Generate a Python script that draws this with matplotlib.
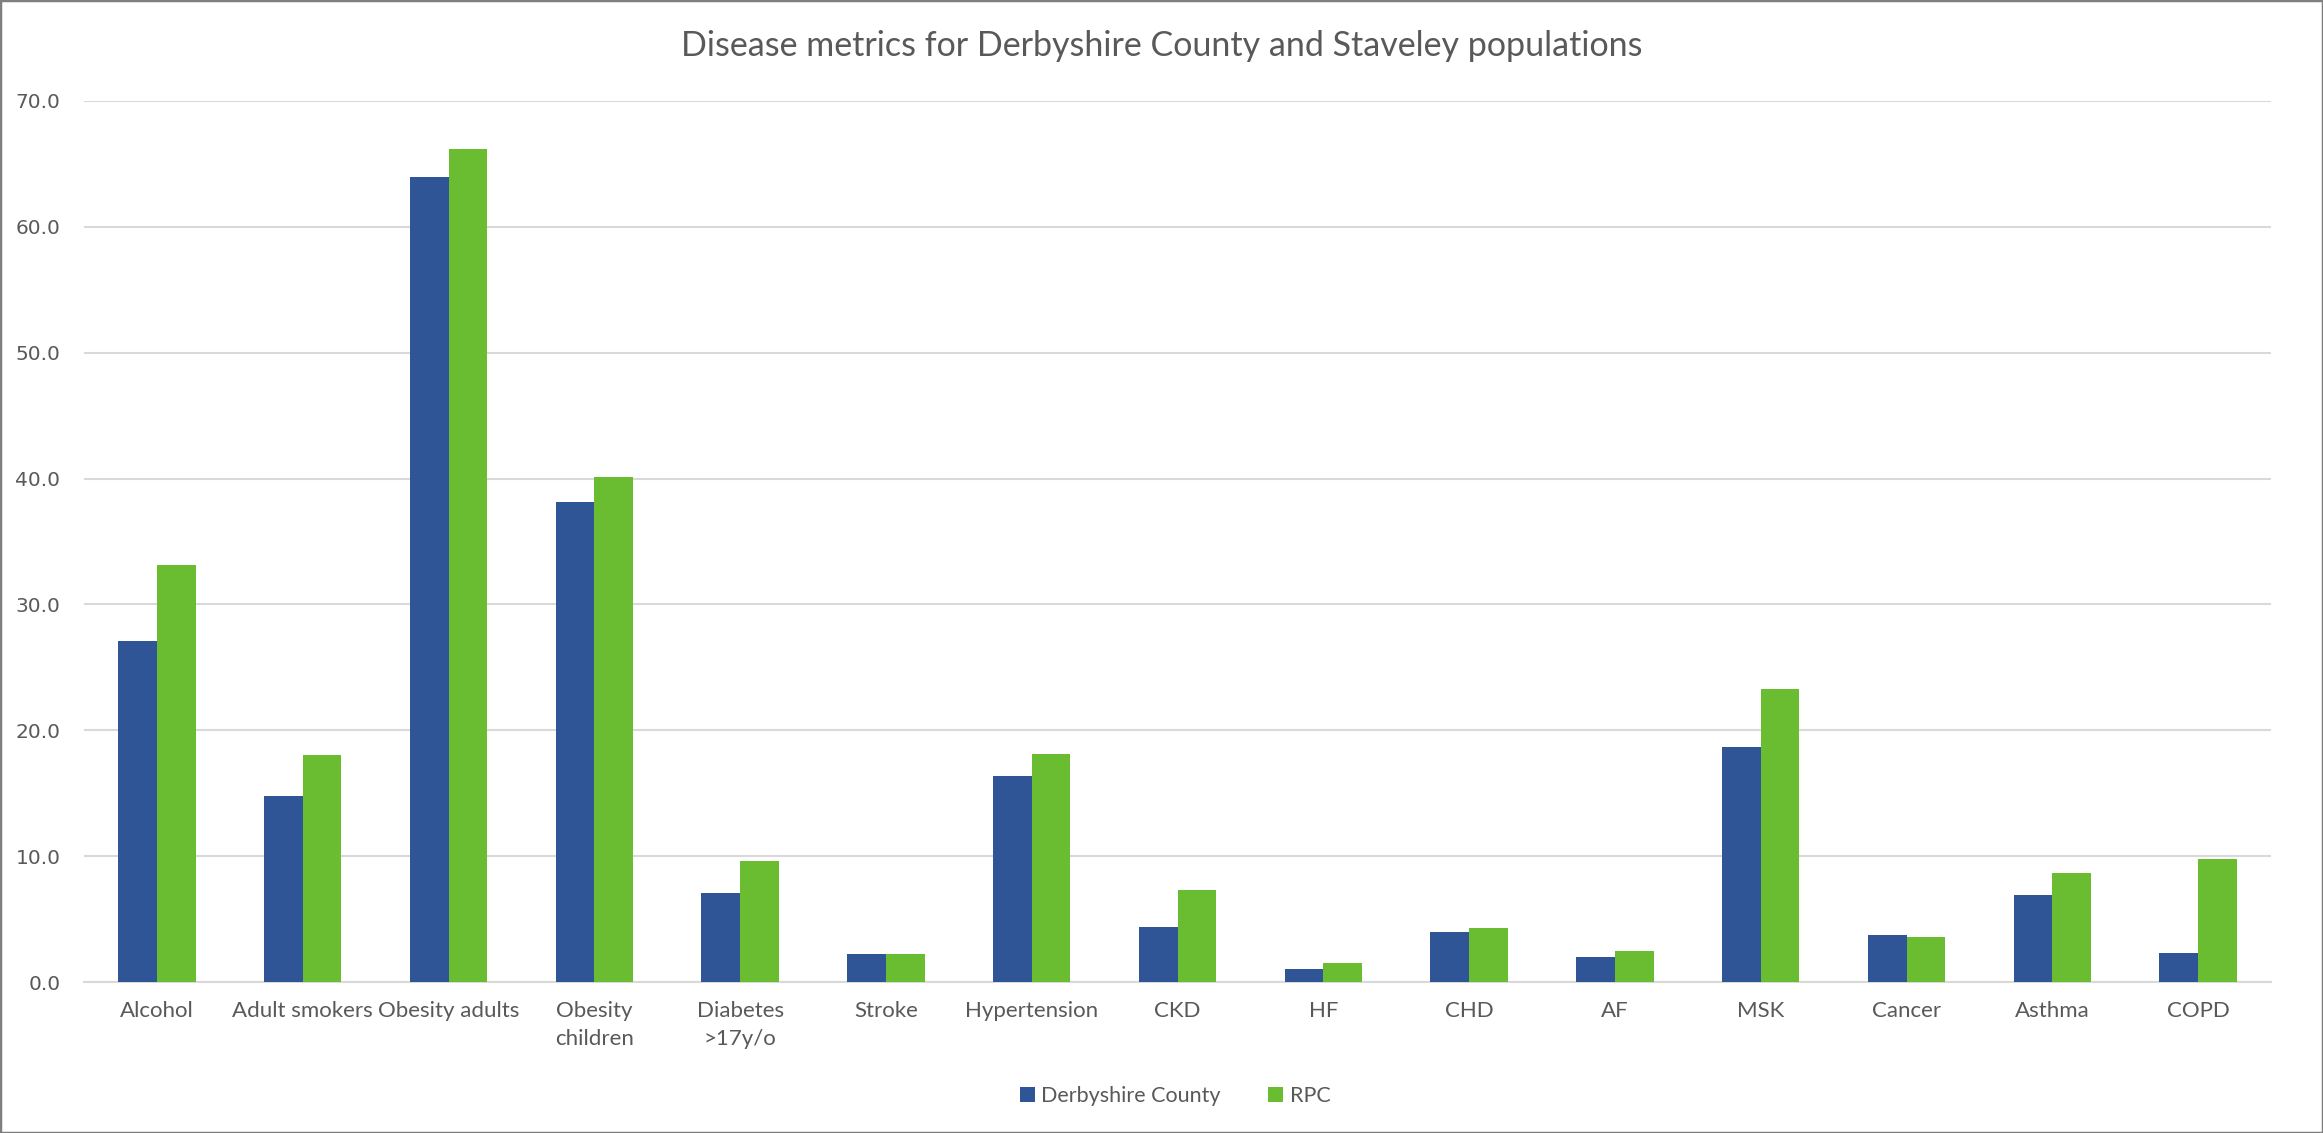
import matplotlib
matplotlib.use("Agg")
import matplotlib.pyplot as plt
import numpy as np
from matplotlib.patches import Rectangle

categories = ["Alcohol", "Adult smokers", "Obesity adults", "Obesity\nchildren",
              "Diabetes\n>17y/o", "Stroke", "Hypertension", "CKD", "HF", "CHD",
              "AF", "MSK", "Cancer", "Asthma", "COPD"]
derbyshire = [27.1, 14.8, 64.0, 38.1, 7.1, 2.25, 16.4, 4.4, 1.0, 4.0, 2.0, 18.7, 3.7, 6.9, 2.3]
rpc = [33.1, 18.0, 66.2, 40.1, 9.6, 2.25, 18.15, 7.3, 1.5, 4.3, 2.45, 23.3, 3.55, 8.7, 9.8]
series_names = ["Derbyshire County", "RPC"]
yticks = [0, 10, 20, 30, 40, 50, 60, 70]

W, H = 2323, 1133
fig = plt.figure(figsize=(W / 100, H / 100), dpi=100)
ax = fig.add_axes([84 / W, 1 - 982 / H, (2271 - 84) / W, (982 - 101) / H])

x = np.arange(len(categories))
bw = 0.265
blue = "#2F5597"
green = "#6ABD30"
ax.bar(x - bw / 2, derbyshire, width=bw, color=blue, label=series_names[0], zorder=3)
ax.bar(x + bw / 2, rpc, width=bw, color=green, label=series_names[1], zorder=3)

ax.set_xlim(-0.5, len(categories) - 0.5)
ax.set_ylim(0, 70)
ax.set_yticks(yticks)
ax.set_yticklabels([f"{v:.1f}" for v in yticks], fontsize=14.5, color="#595959",
                   family="DejaVu Sans")
ax.set_xticks(x)
ax.set_xticklabels(categories, fontsize=16, color="#595959", family="Lato",
                   linespacing=1.45)
ax.tick_params(axis="both", length=0)
ax.tick_params(axis="y", pad=17)
ax.tick_params(axis="x", pad=14)
ax.yaxis.grid(True, color="#D9D9D9", linewidth=1.5, zorder=0)
for s in ["top", "right", "left"]:
    ax.spines[s].set_visible(False)
ax.spines["bottom"].set_color("#D9D9D9")
ax.spines["bottom"].set_linewidth(1.5)

fig.text(0.5, 1 - 46 / H, "Disease metrics for Derbyshire County and Staveley populations",
         ha="center", va="center", fontsize=24.5, color="#595959", family="Lato")

leg = fig.legend(loc="center", bbox_to_anchor=(1175 / W, 1 - 1096 / H), ncol=2,
                 frameon=False, fontsize=15.5, handlelength=0.7, handleheight=0.7,
                 columnspacing=2.2, handletextpad=0.3)
for t in leg.get_texts():
    t.set_color("#595959")
    t.set_family("Lato")

fig.patches.append(Rectangle((0, 0), 1, 1, transform=fig.transFigure, fill=False,
                             edgecolor="#7F7F7F", linewidth=2.5))

fig.savefig("out.png", dpi=100)
